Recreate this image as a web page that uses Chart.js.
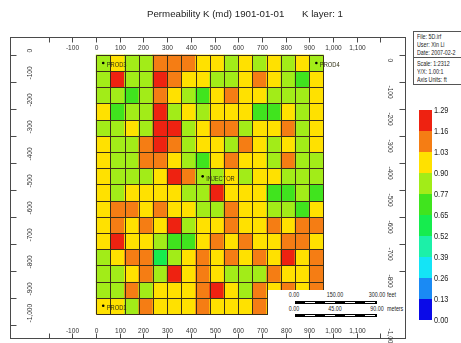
<!DOCTYPE html>
<html>
<head>
<meta charset="utf-8">
<script src="https://cdn.jsdelivr.net/npm/chart.js@4/dist/chart.umd.min.js"></script>
<style>
  html, body { margin: 0; padding: 0; background: #fff; }
  #wrap { position: relative; width: 461px; height: 343px; overflow: hidden;
          font-family: "Liberation Sans", Arial, sans-serif; color: #222; }
  #wrap canvas { position: absolute; left: 0; top: 0; }
  .abs { position: absolute; white-space: nowrap; }
  .narrow { transform: scaleX(0.82); transform-origin: left center; }
  #title { left: 147px; top: 8px; font-size: 9.7px; }
  #title2 { left: 302px; top: 8px; font-size: 9.7px; }
  #info { left: 413px; top: 31px; width: 60px; height: 52px; border: 1px solid #555; background: #fff; font-size: 6.5px; line-height: 8px; }
  #info .sep { position: absolute; left: 0; right: 0; top: 25px; border-top: 1px solid #555; }
  #scalebox { left: 268px; top: 290px; width: 137px; height: 36px; background: #fff; font-size: 6.5px; }
  .sbar { position: absolute; left: 27px; width: 82px; height: 3px; background: #000; }
  .sbar i { position: absolute; left: 0; right: 0; top: 1px; height: 1px;
            background: repeating-linear-gradient(90deg, transparent 0 10px, #fff 10px 20px); }
  .cb { position: absolute; left: 419px; width: 13px; }
  .cbl { position: absolute; left: 434px; font-size: 9px; line-height: 10px; }
</style>
</head>
<body>
<div id="wrap">
  <canvas id="permChart" width="461" height="343"></canvas>
  <div id="title" class="abs">Permeability K (md) 1901-01-01</div>
  <div id="title2" class="abs">K layer: 1</div>
  <div id="info" class="abs"></div>
  <div id="scalebox" class="abs"></div>
  <div id="legend"></div>
</div>
<script>
// grid geometry (feet) and permeability classes
const gridEdgesX = [0, 60, 120, 180, 240, 300, 360, 420, 480, 540, 600, 660, 720, 780, 840, 900, 960];
const gridEdgesY = [0, -60, -120, -180, -240, -300, -360, -420, -480, -540, -600, -660, -720, -780, -840, -900, -960];

const permRows = [
  [0.84, 0.96, 0.84, 0.84, 1.10, 1.10, 1.10, 0.96, 0.96, 0.84, 0.96, 0.84, 0.96, 0.84, 0.96, 0.84],
  [0.84, 1.22, 0.84, 0.84, 1.22, 1.10, 0.96, 0.96, 0.84, 0.84, 0.96, 1.10, 0.96, 0.84, 0.71, 0.96],
  [0.84, 0.84, 0.71, 0.84, 1.10, 0.96, 0.84, 0.71, 0.96, 1.10, 0.96, 0.96, 0.84, 0.84, 0.84, 0.96],
  [0.96, 0.71, 0.84, 0.84, 1.22, 0.84, 0.96, 0.84, 0.96, 0.96, 0.96, 0.71, 0.71, 0.96, 0.84, 0.96],
  [0.84, 0.84, 0.96, 0.84, 1.22, 1.22, 0.84, 0.96, 1.10, 1.10, 0.84, 0.96, 0.96, 1.10, 0.84, 0.96],
  [0.96, 0.84, 0.84, 1.10, 1.22, 1.10, 0.84, 0.96, 0.96, 0.84, 1.10, 0.96, 0.84, 0.96, 0.84, 0.96],
  [0.96, 0.84, 0.84, 1.10, 1.10, 0.96, 0.84, 0.71, 0.96, 1.10, 0.96, 0.96, 0.84, 1.10, 0.84, 0.84],
  [0.96, 0.84, 0.84, 0.84, 0.96, 1.22, 1.10, 0.84, 0.84, 0.96, 0.84, 0.96, 0.96, 0.84, 0.84, 0.84],
  [0.96, 0.84, 0.96, 0.96, 0.96, 0.96, 0.84, 0.84, 1.22, 0.96, 0.96, 0.96, 0.71, 0.71, 0.84, 0.71],
  [0.96, 1.10, 1.10, 0.96, 1.10, 0.96, 0.96, 0.84, 0.84, 1.10, 0.96, 0.96, 0.84, 0.84, 0.71, 0.96],
  [0.96, 1.10, 0.96, 1.10, 0.96, 1.22, 0.84, 0.96, 0.96, 1.10, 0.96, 0.96, 1.10, 0.96, 1.10, 1.10],
  [0.96, 1.22, 0.96, 0.96, 0.84, 0.71, 0.71, 0.96, 1.10, 0.96, 1.10, 0.96, 0.96, 1.10, 1.10, 0.96],
  [0.84, 0.96, 1.10, 1.10, 0.58, 0.84, 0.96, 1.10, 0.96, 1.10, 0.96, 1.10, 0.96, 1.22, 0.96, 1.10],
  [0.84, 0.84, 0.96, 1.10, 0.84, 1.22, 0.96, 1.10, 0.96, 0.84, 0.84, 0.84, 1.10, 0.96, 0.96, 1.10],
  [0.84, 0.84, 1.10, 0.84, 0.96, 0.96, 0.96, 1.10, 1.22, 0.96, 0.84, 1.10, 0.96, 1.10, 0.96, 1.10],
  [0.96, 0.96, 0.84, 1.10, 0.96, 0.96, 0.96, 1.10, 0.96, 0.96, 0.96, 1.10, 0.96, 1.10, 0.96, 1.10]
];

const legendBounds = [1.29, 1.16, 1.03, 0.90, 0.77, 0.65, 0.52, 0.39, 0.26, 0.13, 0.00];
const legendLabels = ['1.29', '1.16', '1.03', '0.90', '0.77', '0.65', '0.52', '0.39', '0.26', '0.13', '0.00'];
const legendColors = ['#ee2211', '#f57d14', '#ffe100', '#a2ec18', '#40e41e', '#16ec4e',
                      '#1cf0a8', '#14e4f6', '#1a8af4', '#0a0ae8'];

const wellNames = ['PROD3', 'PROD4', 'INJECTOR', 'PROD1'];
const wellX = [30, 930, 450, 30];
const wellY = [-30, -30, -450, -930];

const xTickValues = [-200, -100, 0, 100, 200, 300, 400, 500, 600, 700, 800, 900, 1000, 1100, 1200];
const xTickLabels = ['', '-100', '0', '100', '200', '300', '400', '500', '600', '700', '800', '900', '1,000', '1,100', ''];
const yTickValues = [0, -100, -200, -300, -400, -500, -600, -700, -800, -900, -1000];
const yTickLabels = ['0', '-100', '-200', '-300', '-400', '-500', '-600', '-700', '-800', '-900', '-1,000'];

const infoLines = ['File: 5D.irf', 'User: Xin Li', 'Date: 2007-02-2'];
const infoLines2 = ['Scale: 1:2312', 'Y/X: 1.00:1', 'Axis Units: ft'];

function colorFor(v) {
    for (let i = 0; i < legendColors.length; i++) {
        if (v <= legendBounds[i] && v > legendBounds[i + 1]) return legendColors[i];
    }
    return legendColors[legendColors.length - 1];
}

// one floating-bar dataset per grid row
const rowDatasets = permRows.map((row, r) => ({
    type: 'bar',
    data: row.map((v, c) => ({
        x: (gridEdgesX[c] + gridEdgesX[c + 1]) / 2,
        y: [gridEdgesY[r + 1], gridEdgesY[r]]
    })),
    backgroundColor: row.map(colorFor),
    borderWidth: 0,
    grouped: false,
    barPercentage: 1,
    categoryPercentage: 1,
    order: 1
}));

function drawText(ctx, text, x, y, rot, align) {
    ctx.save();
    ctx.translate(x, y);
    ctx.rotate(rot);
    ctx.scale(0.82, 1);
    ctx.textAlign = align;
    ctx.textBaseline = 'middle';
    ctx.fillText(text, 0, 0);
    ctx.restore();
}

const framePlugin = {
    id: 'frame',
    afterDatasetsDraw(chart) {
        const { ctx, chartArea: a, scales: { x, y } } = chart;
        ctx.save();

        // cell outlines
        const gx = gridEdgesX.map(v => Math.round(x.getPixelForValue(v)) + 0.5);
        const gy = gridEdgesY.map(v => Math.round(y.getPixelForValue(v)) + 0.5);
        ctx.strokeStyle = '#3a2e18';
        ctx.lineWidth = 1;
        ctx.beginPath();
        for (let i = 0; i < gx.length; i++) {
            ctx.moveTo(gx[i], gy[0]);
            ctx.lineTo(gx[i], gy[gy.length - 1]);
        }
        for (let j = 0; j < gy.length; j++) {
            ctx.moveTo(gx[0], gy[j]);
            ctx.lineTo(gx[gx.length - 1], gy[j]);
        }
        ctx.stroke();

        // frame with inward ticks
        ctx.strokeStyle = '#4a4a4a';
        const L = Math.round(a.left) + 0.5, R = Math.round(a.right) - 0.5;
        const T = Math.round(a.top) + 0.5, B = Math.round(a.bottom) - 0.5;
        ctx.strokeRect(L, T, R - L, B - T);

        ctx.fillStyle = '#333';
        ctx.font = '8px "Liberation Sans", Arial, sans-serif';
        ctx.beginPath();
        xTickValues.forEach((v, i) => {
            const px = Math.round(x.getPixelForValue(v)) + 0.5;
            ctx.moveTo(px, T); ctx.lineTo(px, T + 5);
            ctx.moveTo(px, B); ctx.lineTo(px, B - 5);
            if (xTickLabels[i]) {
                const half = ctx.measureText(xTickLabels[i]).width * 0.41;
                drawText(ctx, xTickLabels[i], px - half, T + 10, 0, 'left');
                drawText(ctx, xTickLabels[i], px - half, B - 8, 0, 'left');
            }
        });
        yTickValues.forEach((v, i) => {
            const py = Math.round(y.getPixelForValue(v)) + 0.5;
            ctx.moveTo(L, py); ctx.lineTo(L + 6, py);
            ctx.moveTo(R, py); ctx.lineTo(R - 6, py);
            drawText(ctx, yTickLabels[i], L + 19, py - 3, -Math.PI / 2, 'left');
            drawText(ctx, yTickLabels[i], R - 15, py + 3, Math.PI / 2, 'left');
        });
        ctx.stroke();

        // well names next to their markers
        const meta = chart.getDatasetMeta(0);
        ctx.fillStyle = '#2e2e10';
        ctx.font = '7px "Liberation Sans", Arial, sans-serif';
        meta.data.forEach((pt, i) => {
            drawText(ctx, wellNames[i], pt.x + 3.5, pt.y + 2.5, 0, 'left');
        });
        ctx.restore();
    }
};

new Chart(document.getElementById('permChart'), {
    type: 'bar',
    data: {
        datasets: [{
            type: 'scatter',
            data: wellX.map((x, i) => ({ x: x, y: wellY[i] })),
            pointRadius: 1.3,
            pointBackgroundColor: '#000',
            pointBorderWidth: 0,
            order: 0
        }, ...rowDatasets]
    },
    options: {
        responsive: false,
        animation: false,
        events: [],
        layout: { padding: { left: 10, top: 37, right: 55, bottom: 3 } },
        plugins: { legend: { display: false }, tooltip: { enabled: false }, title: { display: false } },
        scales: {
            x: { type: 'linear', min: -259, max: 1204, display: false,
                 ticks: { stepSize: 100, includeBounds: false } },
            y: { type: 'linear', min: -1053, max: 66.5, display: false,
                 ticks: { stepSize: 100, includeBounds: false } }
        }
    },
    plugins: [framePlugin]
});

// info box
const info = document.getElementById('info');
infoLines.forEach((t, i) => {
    const d = document.createElement('div');
    d.className = 'abs narrow';
    d.style.left = '3px'; d.style.top = (1 + i * 8) + 'px';
    d.textContent = t; info.appendChild(d);
});
const sep = document.createElement('div'); sep.className = 'sep'; info.appendChild(sep);
infoLines2.forEach((t, i) => {
    const d = document.createElement('div');
    d.className = 'abs narrow';
    d.style.left = '3px'; d.style.top = (28 + i * 8) + 'px';
    d.textContent = t; info.appendChild(d);
});

// scale bar box
const sb = document.getElementById('scalebox');
const scaleRows = [['0.00', '150.00', '300.00', ' feet'], ['0.00', '45.00', '90.00', ' meters']];
scaleRows.forEach((row, r) => {
    const top = r === 0 ? 1 : 15;
    [26, 67, 109].forEach((cx, k) => {
        const d = document.createElement('div');
        d.className = 'abs';
        d.style.top = top + 'px';
        d.style.left = cx + 'px';
        d.style.transform = 'translateX(-50%) scaleX(0.82)';
        d.textContent = row[k];
        sb.appendChild(d);
    });
    const u = document.createElement('div');
    u.className = 'abs narrow';
    u.style.top = top + 'px'; u.style.left = '119px';
    u.textContent = row[3]; sb.appendChild(u);
    const bar = document.createElement('div');
    bar.className = 'sbar';
    bar.style.top = (r === 0 ? 11 : 24) + 'px';
    bar.innerHTML = '<i></i>';
    sb.appendChild(bar);
});

// colour legend
const lg = document.getElementById('legend');
legendColors.forEach((c, i) => {
    const d = document.createElement('div');
    d.className = 'cb';
    d.style.top = (110 + i * 21) + 'px';
    d.style.height = '21px';
    d.style.background = c;
    lg.appendChild(d);
});
legendLabels.forEach((t, i) => {
    const d = document.createElement('div');
    d.className = 'cbl narrow';
    d.style.top = (105 + i * 21) + 'px';
    d.textContent = t;
    lg.appendChild(d);
});
</script>
</body>
</html>
